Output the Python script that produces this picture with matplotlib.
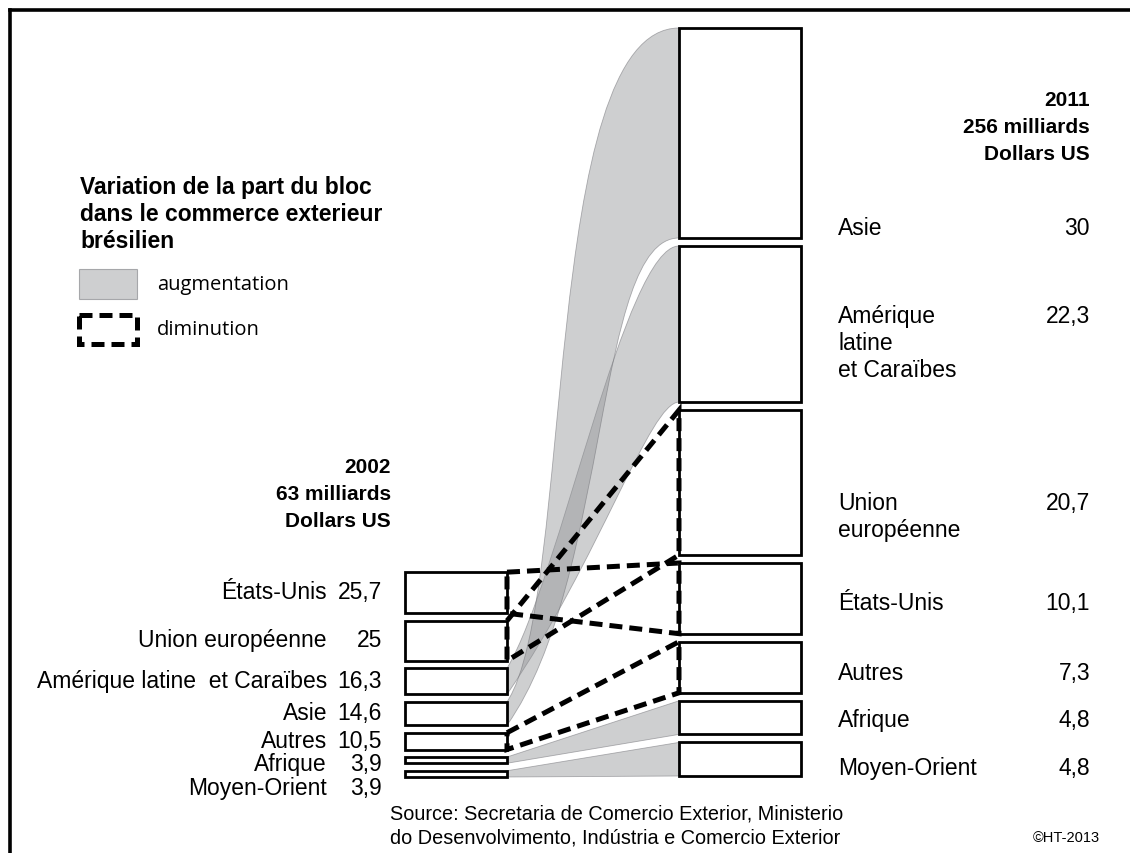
import numpy as np
import matplotlib.pyplot as plt
from matplotlib.path import Path
from matplotlib.patches import PathPatch, Rectangle

# ── Data: part de chaque bloc dans le commerce extérieur brésilien (%)
blocs_2002 = ["us", "ue", "alc", "asie", "autres", "afrique", "mo"]
parts_2002 = [25.7, 25, 16.3, 14.6, 10.5, 3.9, 3.9]
noms_2002 = ["États-Unis", "Union européenne", "Amérique latine  et Caraïbes",
             "Asie", "Autres", "Afrique", "Moyen-Orient"]

blocs_2011 = ["asie", "alc", "ue", "us", "autres", "afrique", "mo"]
parts_2011 = [30, 22.3, 20.7, 10.1, 7.3, 4.8, 4.8]
noms_2011 = ["Asie", "Amérique\nlatine\net Caraïbes", "Union\neuropéenne",
             "États-Unis", "Autres", "Afrique", "Moyen-Orient"]

titre_2002 = "2002\n63 milliards\nDollars US"
titre_2011 = "2011\n256 milliards\nDollars US"

# ── Layout (pixel units)
W, H = 1130, 854
LX0, LX1 = 405, 507
RX0, RX1 = 679, 801
L_SCALE, R_SCALE = 1.6, 7.0
L_GAP, R_GAP = 7.5, 8
L_BOTTOM, R_BOTTOM = 778, 777

GREY = (0.57, 0.575, 0.59, 0.44)
GREY_EDGE = (0.45, 0.45, 0.47, 0.55)
DASH = (0, (2.6, 1.4))
FONT = "Liberation Sans"

# bezier handles (a, b, c, d) for top / bottom edge of a band;
# default is a straight edge
STRAIGHT = (1/3, 1/3, 2/3, 2/3)
curve_shape = {
    "asie": ((0.395, 0.153, 0.192, 1.0), (0.60, 0.30, 0.512, 1.0)),
    "alc": ((0.308, 0.21, 0.686, 1.0), (0.54, 0.464, 0.831, 1.0)),
}
# vertical position of the first label line inside the 2011 boxes
label_frac_2011 = [0.94, 0.43, 0.62, 0.53, 0.55, 0.48, 0.68]


def stack(parts, scale, gap, bottom):
    spans = []
    y = bottom
    for p in reversed(parts):
        spans.append((y - p * scale, y))
        y -= p * scale + gap
    return spans[::-1]


def fmt(v):
    return f"{v:g}".replace(".", ",")


def bezier(p0, p1, shape):
    a, b, c, d = shape
    dx, dy = p1[0] - p0[0], p1[1] - p0[1]
    return [p0, (p0[0] + a * dx, p0[1] + b * dy),
            (p0[0] + c * dx, p0[1] + d * dy), p1]


span_l = dict(zip(blocs_2002, stack(parts_2002, L_SCALE, L_GAP, L_BOTTOM)))
span_r = dict(zip(blocs_2011, stack(parts_2011, R_SCALE, R_GAP, R_BOTTOM)))
val_l = dict(zip(blocs_2002, parts_2002))
val_r = dict(zip(blocs_2011, parts_2011))

fig = plt.figure(figsize=(W / 100, H / 100), dpi=100)
ax = fig.add_axes([0, 0, 1, 1])
ax.set_xlim(0, W)
ax.set_ylim(H, 0)
ax.axis("off")

# frame
ax.plot([10, 10], [11, H], color="black", lw=2.6, solid_capstyle="projecting")
ax.plot([10, W], [11, 11], color="black", lw=2.6, solid_capstyle="projecting")

# ── Bands between 2002 and 2011
for bloc in blocs_2002:
    lt, lb = span_l[bloc]
    rt, rb = span_r[bloc]
    s_top, s_bot = curve_shape.get(bloc, (STRAIGHT, STRAIGHT))
    top = bezier((LX1, lt), (RX0, rt), s_top)
    bot = bezier((LX1, lb), (RX0, rb), s_bot)
    verts = top + bot[::-1] + [top[0]]
    codes = ([Path.MOVETO] + [Path.CURVE4] * 3 + [Path.LINETO]
             + [Path.CURVE4] * 3 + [Path.CLOSEPOLY])
    path = Path(verts, codes)
    if val_r[bloc] > val_l[bloc]:
        ax.add_patch(PathPatch(path, fc=GREY, ec=GREY_EDGE, lw=0.6, zorder=1))
    else:
        ax.add_patch(PathPatch(path, fill=False, ec="black", lw=3.6,
                               ls=DASH, joinstyle="miter", zorder=4))

# ── Boxes
for spans, x0, x1 in [(span_l, LX0, LX1), (span_r, RX0, RX1)]:
    for top, bot in spans.values():
        ax.add_patch(Rectangle((x0, top), x1 - x0, bot - top, fc="white",
                               ec="black", lw=2.0, zorder=3))

# ── Labels 2002 (spread so small boxes don't collide)
ys = []
for bloc in blocs_2002:
    c = sum(span_l[bloc]) / 2
    ys.append(c if not ys else max(c, ys[-1] + 23.5))
for nom, v, y in zip(noms_2002, parts_2002, ys):
    ax.text(327, y - 1, nom, ha="right", va="center", fontsize=16.5,
            family=FONT)
    ax.text(382, y - 1, fmt(v), ha="right", va="center", fontsize=16.5,
            family=FONT)

# ── Labels 2011
for bloc, nom, v, f in zip(blocs_2011, noms_2011, parts_2011, label_frac_2011):
    top, bot = span_r[bloc]
    y = top + f * (bot - top) - 9
    ax.text(838, y, nom, ha="left", va="top", fontsize=16.5, family=FONT,
            linespacing=1.22)
    ax.text(1090, y, fmt(v), ha="right", va="top", fontsize=16.5,
            family=FONT)

# ── Titles
ax.text(391, 458, titre_2002, ha="right", va="top", fontsize=15,
        fontweight="bold", family=FONT, linespacing=1.53, multialignment="right")
ax.text(1090, 91, titre_2011, ha="right", va="top", fontsize=15,
        fontweight="bold", family=FONT, linespacing=1.53, multialignment="right")

# ── Legend
ax.text(80, 176, "Variation de la part du bloc\ndans le commerce exterieur\nbrésilien",
        ha="left", va="top", fontsize=16.5, fontweight="bold", family=FONT,
        linespacing=1.22)
ax.add_patch(Rectangle((79, 270), 58, 30, fc=GREY, ec=GREY_EDGE, lw=0.8))
ax.add_patch(Rectangle((79, 316), 58, 29, fill=False, ec="black", lw=3.6,
                       ls=DASH, joinstyle="miter"))
ax.text(157, 285, "augmentation", ha="left", va="center", fontsize=14.5,
        family="Open Sans")
ax.text(157, 330, "diminution", ha="left", va="center", fontsize=14.5,
        family="Open Sans")

# ── Source
ax.text(390, 826, "Source: Secretaria de Comercio Exterior, Ministerio\n"
        "do Desenvolvimento, Indústria e Comercio Exterior",
        ha="left", va="center", fontsize=14.3, family=FONT, linespacing=1.3)
ax.text(1100, 838, "©HT-2013", ha="right", va="center", fontsize=10.5,
        family=FONT)

fig.savefig("out.png", dpi=100)
